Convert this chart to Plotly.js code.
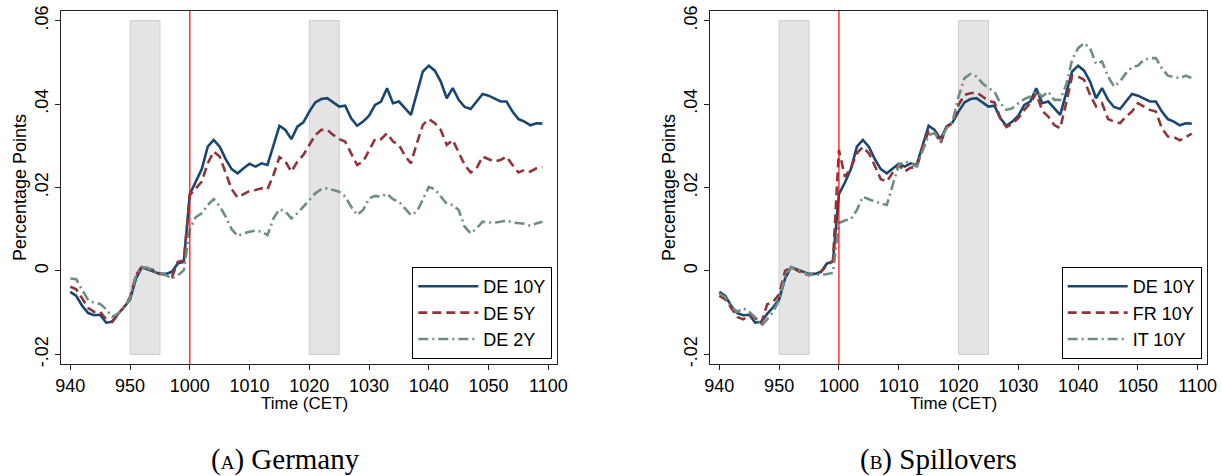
<!DOCTYPE html>
<html>
<head>
<meta charset="utf-8">
<script src="https://cdn.plot.ly/plotly-3.0.1.min.js"></script>
<style>
html,body{margin:0;padding:0;background:#fff;}
#chart{width:1222px;height:476px;}
</style>
</head>
<body>
<div id="chart"></div>
<script>
// Minutes after 9:40 CET (one observation per minute, 9:40 - 10:59)
const tickMinutes = [0, 10, 20, 30, 40, 50, 60, 70, 80];
const tickLabels = ['940', '950', '1000', '1010', '1020', '1030', '1040', '1050', '1100'];
const yTickVals = [-0.02, 0, 0.02, 0.04, 0.06];
const yTickText = ['-.02', '0', '.02', '.04', '.06'];

const de10 = [-0.0050,-0.0060,-0.0084,-0.0101,-0.0106,-0.0105,-0.0124,-0.0122,-0.0103,-0.0087,
  -0.0068,-0.0018,0.0009,0.0004,-0.0002,-0.0007,-0.0007,-0.0002,0.0018,0.0022,
  0.0184,0.0212,0.0244,0.0298,0.0314,0.0298,0.0268,0.0244,0.0234,0.0246,
  0.0257,0.0250,0.0258,0.0254,0.0301,0.0348,0.0338,0.0316,0.0346,0.0356,
  0.0382,0.0404,0.0412,0.0414,0.0404,0.0394,0.0396,0.0366,0.0348,0.0358,
  0.0372,0.0398,0.0406,0.0438,0.0402,0.0406,0.0390,0.0374,0.0426,0.0478,
  0.0492,0.0480,0.0454,0.0414,0.0438,0.0410,0.0393,0.0388,0.0406,0.0424,
  0.0420,0.0412,0.0406,0.0406,0.0382,0.0364,0.0358,0.0349,0.0354,0.0353];

const de5 = [-0.0038,-0.0044,-0.0066,-0.0089,-0.0098,-0.0098,-0.0116,-0.0122,-0.0103,-0.0086,
  -0.0062,-0.0010,0.0012,0.0006,0.0002,-0.0006,-0.0010,-0.0015,0.0022,0.0025,
  0.0182,0.0198,0.0214,0.0258,0.0286,0.0274,0.0236,0.0196,0.0176,0.0184,
  0.0192,0.0194,0.0198,0.0196,0.0230,0.0273,0.0262,0.0238,0.0262,0.0278,
  0.0302,0.0326,0.0338,0.0338,0.0326,0.0316,0.0310,0.0282,0.0254,0.0262,
  0.0290,0.0316,0.0316,0.0330,0.0310,0.0302,0.0276,0.0258,0.0306,0.0350,
  0.0364,0.0354,0.0338,0.0302,0.0314,0.0282,0.0254,0.0236,0.0246,0.0274,
  0.0268,0.0262,0.0266,0.0274,0.0254,0.0236,0.0242,0.0238,0.0246,0.0249];

const de2 = [-0.0018,-0.0020,-0.0046,-0.0070,-0.0076,-0.0079,-0.0092,-0.0110,-0.0102,-0.0087,
  -0.0065,-0.0010,0.0009,0.0007,-0.0002,-0.0005,-0.0010,-0.0018,-0.0011,0.0002,
  0.0100,0.0129,0.0138,0.0158,0.0172,0.0155,0.0130,0.0100,0.0084,0.0090,
  0.0094,0.0097,0.0094,0.0086,0.0126,0.0148,0.0142,0.0126,0.0138,0.0154,
  0.0170,0.0186,0.0196,0.0198,0.0194,0.0190,0.0178,0.0154,0.0134,0.0146,
  0.0174,0.0180,0.0178,0.0185,0.0172,0.0166,0.0150,0.0134,0.0142,0.0170,
  0.0201,0.0196,0.0178,0.0161,0.0158,0.0146,0.0106,0.0090,0.0102,0.0118,
  0.0116,0.0116,0.0118,0.0121,0.0116,0.0114,0.0113,0.0108,0.0114,0.0118];

const fr10 = [-0.0060,-0.0068,-0.0089,-0.0110,-0.0116,-0.0106,-0.0113,-0.0126,-0.0080,-0.0074,
  -0.0056,0.0000,0.0009,0.0002,-0.0006,-0.0010,-0.0006,-0.0002,0.0014,0.0024,
  0.0290,0.0226,0.0246,0.0282,0.0297,0.0282,0.0252,0.0220,0.0214,0.0236,
  0.0254,0.0238,0.0248,0.0247,0.0298,0.0334,0.0334,0.0306,0.0346,0.0353,
  0.0398,0.0422,0.0426,0.0428,0.0418,0.0408,0.0404,0.0366,0.0345,0.0353,
  0.0366,0.0386,0.0402,0.0426,0.0384,0.0370,0.0350,0.0342,0.0402,0.0468,
  0.0466,0.0458,0.0422,0.0394,0.0402,0.0364,0.0358,0.0354,0.0370,0.0382,
  0.0402,0.0393,0.0386,0.0382,0.0342,0.0322,0.0321,0.0313,0.0321,0.0329];

const it10 = [-0.0054,-0.0063,-0.0086,-0.0098,-0.0089,-0.0098,-0.0111,-0.0132,-0.0116,-0.0098,
  -0.0070,-0.0014,0.0009,0.0004,-0.0002,-0.0010,-0.0007,-0.0010,-0.0007,-0.0005,
  0.0115,0.0121,0.0124,0.0146,0.0178,0.0172,0.0166,0.0162,0.0158,0.0206,
  0.0254,0.0262,0.0258,0.0250,0.0290,0.0326,0.0330,0.0314,0.0342,0.0358,
  0.0418,0.0462,0.0472,0.0466,0.0450,0.0438,0.0430,0.0402,0.0386,0.0390,
  0.0402,0.0412,0.0418,0.0430,0.0418,0.0430,0.0410,0.0410,0.0446,0.0506,
  0.0534,0.0546,0.0534,0.0496,0.0502,0.0466,0.0442,0.0454,0.0474,0.0488,
  0.0492,0.0506,0.0510,0.0510,0.0486,0.0468,0.0465,0.0462,0.0468,0.0462];

const minute = de10.map((_, i) => i);

const NAVY = '#1a476f', MAROON = '#90353b', SAGE = '#6e8e84';
const FONT = 'Liberation Sans, Arial, Helvetica, sans-serif';
const SERIF = 'Liberation Serif, Times New Roman, serif';

function tr(y, name, color, dash, xa, ya, legend) {
  return {x: minute, y: y, name: name, type: 'scatter', mode: 'lines',
    line: {color: color, width: 2.6, dash: dash},
    xaxis: xa, yaxis: ya, legend: legend};
}

const data = [
  tr(de10, 'DE 10Y', NAVY, 'solid', 'x', 'y', 'legend'),
  tr(de5, 'DE 5Y', MAROON, '9px,5px', 'x', 'y', 'legend'),
  tr(de2, 'DE 2Y', SAGE, '10px,4px,2px,4px', 'x', 'y', 'legend'),
  tr(de10, 'DE 10Y', NAVY, 'solid', 'x2', 'y2', 'legend2'),
  tr(fr10, 'FR 10Y', MAROON, '9px,5px', 'x2', 'y2', 'legend2'),
  tr(it10, 'IT 10Y', SAGE, '10px,4px,2px,4px', 'x2', 'y2', 'legend2')
];

const W = 1222, T = 11, B = 364;
const xAxisBase = {
  range: [-1.56, 81.5], tickvals: tickMinutes, ticktext: tickLabels,
  ticks: 'outside', ticklen: 5, tickwidth: 1, tickcolor: '#222',
  showline: true, mirror: true, linecolor: '#222', linewidth: 1,
  showgrid: false, zeroline: false, fixedrange: true,
  tickfont: {family: FONT, size: 18, color: '#000'}
};
const yAxisBase = {
  range: [-0.0223, 0.0623], tickvals: yTickVals, ticktext: yTickText,
  ticks: 'outside', ticklen: 5, tickwidth: 1, tickcolor: '#222', tickangle: -90,
  showline: true, mirror: true, linecolor: '#222', linewidth: 1,
  showgrid: false, zeroline: false, fixedrange: true,
  tickfont: {family: FONT, size: 18, color: '#000'}
};

function shade(xa, ya, x0, x1) {
  return {type: 'rect', xref: xa, yref: ya, x0: x0, x1: x1, y0: -0.02, y1: 0.06,
    fillcolor: '#e4e4e4', line: {color: '#cdcdcd', width: 1}, layer: 'below'};
}
function vline(xa, ya) {
  return {type: 'line', xref: xa, yref: ya + ' domain', x0: 20, x1: 20, y0: 0, y1: 1,
    line: {color: '#ff0000', width: 1.2}, layer: 'above'};
}

const py = p => (B - p) / (B - T);
function ann(text, xp, yp, size, family, angle) {
  return {text: text, xref: 'paper', yref: 'paper', x: xp / W, y: py(yp),
    xanchor: 'center', yanchor: 'middle', showarrow: false, textangle: angle || 0,
    font: {family: family || FONT, size: size, color: '#000'}};
}

const legendBase = {
  xanchor: 'right', yanchor: 'bottom', bgcolor: '#fff', bordercolor: '#000', borderwidth: 1,
  font: {family: FONT, size: 18, color: '#000'}, itemwidth: 60, tracegroupgap: 0
};

const layout = {
  width: W, height: 476, margin: {l: 0, r: 0, t: T, b: 476 - B},
  paper_bgcolor: '#fff', plot_bgcolor: '#fff', showlegend: true,
  font: {family: FONT, size: 18, color: '#000'},
  xaxis: Object.assign({}, xAxisBase, {domain: [61 / W, 557.3 / W], anchor: 'y'}),
  yaxis: Object.assign({}, yAxisBase, {domain: [0, 1], anchor: 'x'}),
  xaxis2: Object.assign({}, xAxisBase, {domain: [710 / W, 1206.7 / W], anchor: 'y2'}),
  yaxis2: Object.assign({}, yAxisBase, {domain: [0, 1], anchor: 'x2'}),
  legend: Object.assign({}, legendBase, {x: 552.3 / W, y: py(359)}),
  legend2: Object.assign({}, legendBase, {x: 1201.7 / W, y: py(359)}),
  shapes: [shade('x', 'y', 10, 15), shade('x', 'y', 40, 45), vline('x', 'y'),
           shade('x2', 'y2', 10, 15), shade('x2', 'y2', 40, 45), vline('x2', 'y2')],
  annotations: [
    ann('Percentage Points', 19.5, 187.5, 18, FONT, -90),
    ann('Percentage Points', 668.5, 187.5, 18, FONT, -90),
    ann('Time (CET)', 304, 403, 17),
    ann('Time (CET)', 953, 403, 17),
    ann('(<span style="font-size:19px">A</span>) Germany', 285, 459, 29, SERIF),
    ann('(<span style="font-size:19px">B</span>) Spillovers', 938, 459, 29, SERIF)
  ]
};

Plotly.newPlot('chart', data, layout, {displayModeBar: false, staticPlot: true});
</script>
</body>
</html>
